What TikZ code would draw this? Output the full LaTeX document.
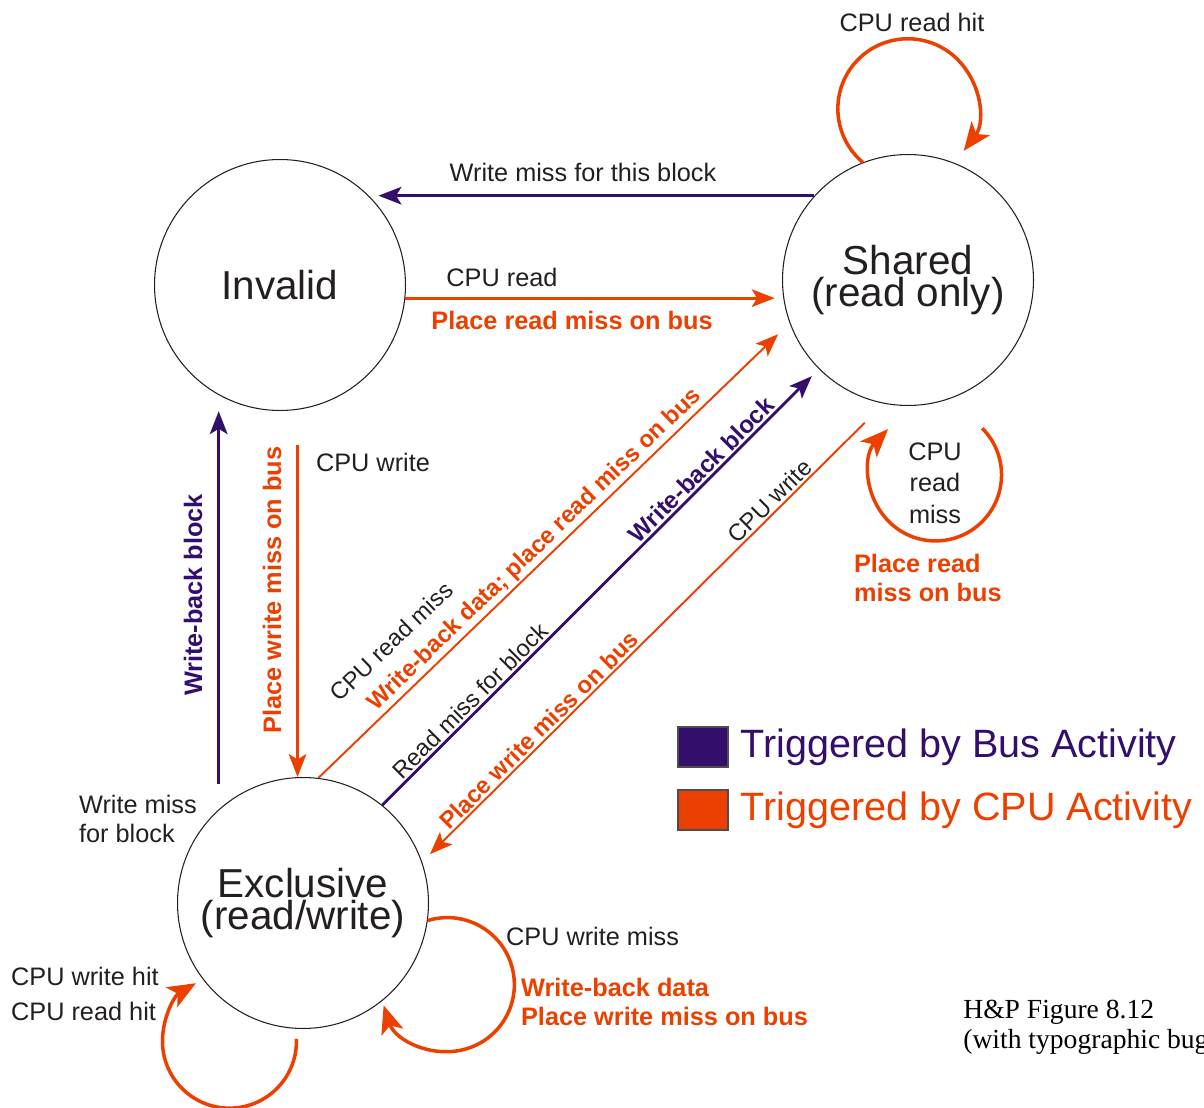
\documentclass[tikz,border=0pt]{standalone}
\usepackage{fontspec}
\setmainfont{Liberation Sans}
\newfontfamily\hpfont{Liberation Serif}
\usepackage{xcolor}
\usepackage{tikz}
\usetikzlibrary{arrows.meta, positioning}

\definecolor{busc}{RGB}{51,14,107}
\definecolor{cpuc}{RGB}{236,64,0}
\definecolor{ink}{RGB}{35,31,32}

\begin{document}
\begin{tikzpicture}[
    x=0.02cm, y=-0.02cm,
    >={Stealth[length=13pt, width=10pt, inset=3pt]},
    node distance=0.24cm,
    cstate/.style={
        circle,
        draw=ink,
        line width=0.6pt,
        minimum size=5.02cm,
        inner sep=0pt,
        align=center,
        text=ink,
        font=\fontsize{23}{18.5}\selectfont
    },
    lbl/.style={text=ink, align=left, inner sep=1pt, font=\fontsize{14.4}{17}\selectfont},
    lblcpu/.style={lbl, text=cpuc, font=\fontsize{14.4}{17}\selectfont\bfseries},
    lblbus/.style={lbl, text=busc, font=\fontsize{14.4}{17}\selectfont\bfseries},
    dlbl/.style={lbl, sloped, font=\fontsize{13.5}{16}\selectfont},
    dlblcpu/.style={dlbl, text=cpuc, font=\fontsize{13.5}{16}\selectfont\bfseries},
    dlblbus/.style={dlbl, text=busc, font=\fontsize{13.8}{16}\selectfont\bfseries},
    busline/.style={->, draw=busc, line width=1.8pt},
    cpuline/.style={->, draw=cpuc, line width=1.8pt},
    cpuself/.style={-{Stealth[length=16pt, width=13pt, inset=4pt]}, draw=cpuc, line width=2pt},
    legbox/.style={draw=ink!80, line width=0.6pt, minimum width=1cm, minimum height=0.8cm, inner sep=0pt},
    legtxt/.style={inner sep=0pt, font=\fontsize{22.5}{26}\selectfont}
]

\useasboundingbox (0,0) rectangle (1204,1108);

% states
\node[cstate] (inv) at (280,285) {Invalid};
\node[cstate] (sh) at (908,280) {Shared\\(read only)};
\node[cstate] (ex) at (303,903) {Exclusive\\(read/write)};

% straight transitions
\draw[busline, shorten >=0.22cm] (sh.138) -- (inv.46 |- sh.138);
\draw[cpuline, shorten >=0.16cm] (inv.-6) -- (sh.186 |- inv.-6);
\draw[cpuline, shorten <=0.7cm] (inv.-82) -- (inv.-82 |- ex.north);
\draw[busline, shorten <=0.5cm, shorten >=0.32cm] (ex.132) -- (ex.132 |- inv.-119);

% diagonals
\draw[cpuline, line width=1.1pt, shorten >=0.32cm] (ex.83) -- (sh.200)
    node[dlbl, pos=0.225, above=0.72cm] {CPU read miss}
    node[dlblcpu, pos=0.48, above] {Write-back data; place read miss on bus};
\draw[busline, line width=1.6pt, shorten >=0.2cm] (ex.51) -- (sh.225)
    node[dlbl, pos=0.22, above] {Read miss for block}
    node[dlblbus, pos=0.75, above] {Write-back block};
\draw[cpuline, line width=1.1pt, shorten <=0.54cm, shorten >=0.22cm] (sh.259) -- (ex.19)
    node[dlbl, pos=0.23, above] {CPU write}
    node[dlblcpu, pos=0.73, above] {Place write miss on bus};

% self loops
\draw[cpuself] (sh.111) arc[start angle=-130, end angle=-397, radius=1.4cm];
\draw[cpuself] (sh.-63) ++(17,36) arc[start angle=45, end angle=-224, radius=1.32cm];
\draw[cpuself] (ex.-8) arc[start angle=107, end angle=-162, radius=1.34cm];
\draw[cpuself] (ex.-93) ++(0,10) arc[start angle=2, end angle=-240, radius=1.34cm];

% labels
\node[lbl] (rdhit) at (912,22) {CPU read hit};
\node[lbl] (wrmiss) at (583,172) {Write miss for this block};
\node[lbl] (cpurd) at (502,277) {CPU read};
\node[lblcpu] (rdbus) at (572,320) {Place read miss on bus};
\node[lbl] (cpuwr) at (373,462) {CPU write};
\node[lblcpu, rotate=90] (wrbus) at (272,590) {Place write miss on bus};
\node[lblbus, rotate=90] (wbblk) at (193,595) {Write-back block};
\node[lbl, align=center, font=\fontsize{14.4}{18}\selectfont] (rdmiss) at (935,483) {CPU\\read\\miss};
\node[lblcpu, anchor=west] (rdmbus) at (852,578) {Place read\\miss on bus};
\node[lbl, anchor=west] (wrblk) at (77,819) {Write miss\\for block};
\node[lbl, anchor=west, font=\fontsize{14.4}{19.5}\selectfont] (hits) at (9,994) {CPU write hit\\CPU read hit};
\node[lbl, anchor=west] (wrmissx) at (504,936) {CPU write miss};
\node[lblcpu, anchor=west] (wbdata) at (519,1002) {Write-back data\\Place write miss on bus};

% legend
\node[legbox, fill=busc] (kbus) at (703,747) {};
\node[legtxt, text=busc, right=of kbus] (tbus) {Triggered by Bus Activity};
\node[legbox, fill=cpuc] (kcpu) at (703,810) {};
\node[legtxt, text=cpuc, right=of kcpu] (tcpu) {Triggered by CPU Activity};

\node[anchor=west, inner sep=0pt, align=left, font=\hpfont\fontsize{15.7}{17}\selectfont] (hp) at (963,1027)
    {H\&P Figure 8.12\\(with typographic bugs)};

\end{tikzpicture}
\end{document}
